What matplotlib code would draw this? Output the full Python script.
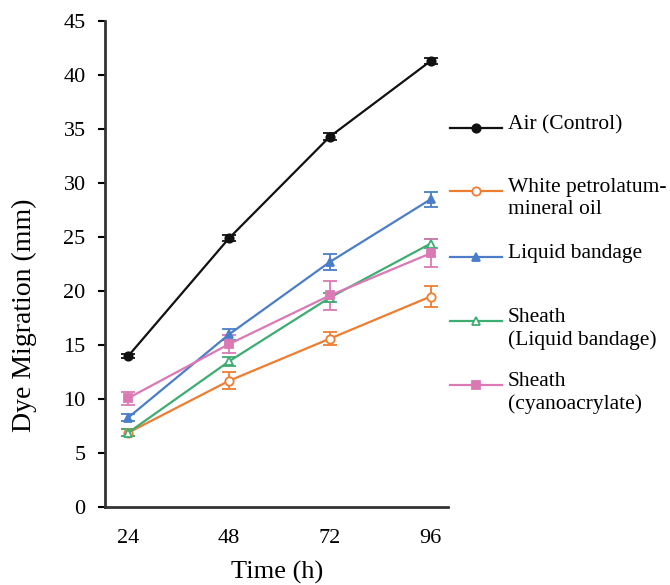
import matplotlib
matplotlib.use("Agg")
import matplotlib.pyplot as plt
from matplotlib.lines import Line2D
from matplotlib import rcParams

rcParams['font.family'] = ['Liberation Serif', 'DejaVu Serif']

# data
hours = [24, 48, 72, 96]
labels = ['Air (Control)', 'White petrolatum-\nmineral oil', 'Liquid bandage',
          'Sheath\n(Liquid bandage)', 'Sheath\n(cyanoacrylate)']
air = [14.0, 24.9, 34.3, 41.3]
air_err = [0.2, 0.3, 0.3, 0.3]
petrolatum = [6.9, 11.7, 15.6, 19.5]
petrolatum_err = [0.3, 0.8, 0.6, 1.0]
bandage = [8.3, 16.0, 22.7, 28.5]
bandage_err = [0.3, 0.5, 0.7, 0.7]
sheath_bandage = [6.9, 13.5, 19.4, 24.4]
sheath_bandage_err = [0.3, 0.4, 0.4, 0.4]
sheath_cyano = [10.1, 15.1, 19.6, 23.5]
sheath_cyano_err = [0.6, 0.8, 1.3, 1.3]

series = [air, petrolatum, bandage, sheath_bandage, sheath_cyano]
errors = [air_err, petrolatum_err, bandage_err, sheath_bandage_err, sheath_cyano_err]
colors = ['#111111', '#ED7D31', '#4A7EC8', '#3EAD72', '#DA79B4']
markers = ['o', 'o', '^', '^', 's']
fills = [True, False, True, False, True]

fig = plt.figure(figsize=(6.7, 5.85), dpi=100)
ax = fig.add_axes([0.157, 0.133, 0.512, 0.831])

for vals, err, c, m, f in zip(series, errors, colors, markers, fills):
    ax.errorbar(hours, vals, yerr=err, color=c, marker=m, markersize=6,
                markerfacecolor=c if f else 'white', markeredgecolor=c,
                markeredgewidth=1.3, linewidth=1.6, capsize=5, capthick=1.3,
                elinewidth=1.3)

ax.set_xlim(18.5, 100.2)
ax.set_ylim(0, 45)
ax.set_xticks(hours)
ax.set_yticks(range(0, 46, 5))
ax.tick_params(axis='x', length=0, pad=16, labelsize=16)
ax.tick_params(axis='y', length=5, width=1.5, direction='out', pad=9, labelsize=16)
for s in ['top', 'right']:
    ax.spines[s].set_visible(False)
for s in ['left', 'bottom']:
    ax.spines[s].set_linewidth(2)
    ax.spines[s].set_color('#333333')
ax.set_xlabel('Time (h)', fontsize=19)
ax.xaxis.set_label_coords(0.5, -0.11)
ax.set_ylabel('Dye Migration (mm)', fontsize=20)
ax.yaxis.set_label_coords(-0.20, 0.395)

# legend drawn by hand so handles line up with the first text line
leg_y = [128, 191, 257, 321, 385]
for y, lab, c, m, f in zip(leg_y, labels, colors, markers, fills):
    yf = 1 - y / 585
    fig.add_artist(Line2D([450 / 670, 476 / 670, 502 / 670], [yf, yf, yf],
                          transform=fig.transFigure, color=c, linewidth=1.6,
                          marker=m, markevery=[1], markersize=6,
                          markerfacecolor=c if f else 'white',
                          markeredgecolor=c, markeredgewidth=1.3))
    fig.text(508 / 670, yf + 13 / 585, lab, fontsize=15.5, va='top', ha='left',
             linespacing=1.2)

fig.savefig('out.png', dpi=100)
